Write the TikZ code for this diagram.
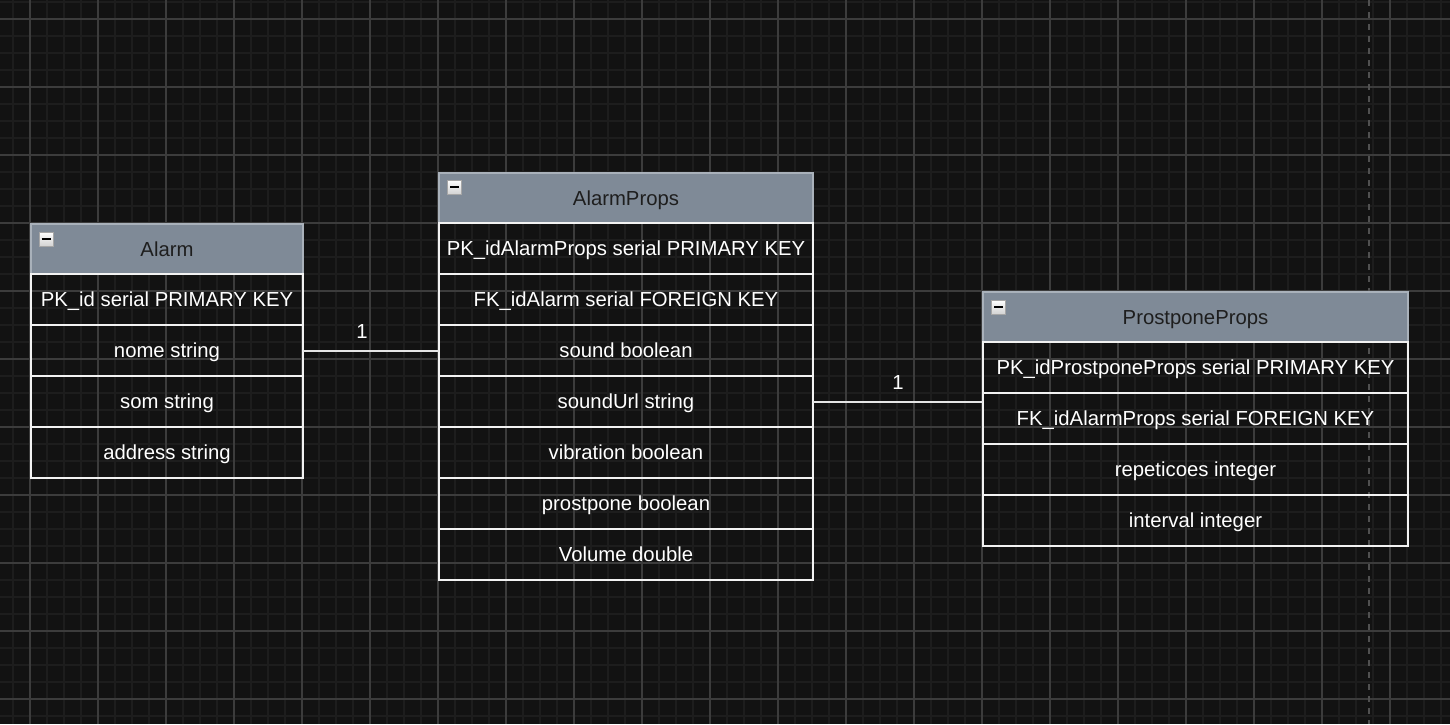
\documentclass[tikz,border=0pt]{standalone}
\usepackage{fontspec}
\setmainfont{Liberation Sans}
\definecolor{bg}{HTML}{121212}
\definecolor{gminor}{HTML}{1D1D1D}
\definecolor{gmajor}{HTML}{3C3C3C}
\definecolor{hdr}{HTML}{7F8A97}
\definecolor{hdrline}{HTML}{A9B1BA}
\definecolor{hdrtext}{HTML}{1E1E1E}
\definecolor{rowline}{HTML}{F2F2F2}
\definecolor{conn}{HTML}{E6E6E6}
\definecolor{dashc}{HTML}{505050}
\begin{document}
\begin{tikzpicture}[x=1pt,y=-1pt,
  txt/.style={font=\fontsize{20.3}{24}\selectfont,text height=14.5pt,text depth=0pt},
  hdrbox/.style={txt,draw=hdrline,fill=hdr,text=hdrtext,line width=1.6pt,minimum height=50pt,inner sep=0pt,outer sep=0pt},
  rowbox/.style={txt,draw=rowline,text=white,line width=2pt,minimum height=51pt,inner sep=0pt,outer sep=0pt},
  minusbox/.style={draw=gray!70,top color=white,bottom color=gray!35,minimum size=14pt,inner sep=0pt,line width=0.6pt,
    path picture={\draw[black,line width=2pt] ([xshift=-4.5pt]path picture bounding box.center) -- ([xshift=4.5pt]path picture bounding box.center);}},
  conline/.style={draw=conn,line width=2pt},
  mult/.style={txt,text=white,inner sep=0pt}]
\useasboundingbox (0,0) rectangle (1450,724);
\fill[bg] (0,0) rectangle (1450,724);
% grid
\foreach \k in {0,...,85} {
  \draw[gminor,line width=2pt] ({13+17*\k},0) -- ({13+17*\k},724);
}
\foreach \k in {0,...,42} {
  \draw[gminor,line width=2pt] (0,{2+17*\k}) -- (1450,{2+17*\k});
}
\foreach \k in {0,...,21} {
  \draw[gmajor,line width=1.1pt] ({30+68*\k},0) -- ({30+68*\k},724);
}
\foreach \k in {0,...,10} {
  \draw[gmajor,line width=1.1pt] (0,{19+68*\k}) -- (1450,{19+68*\k});
}
\draw[dashc,line width=2pt,dash pattern=on 6pt off 6pt] (1369,0) -- (1369,724);

% Alarm
\begin{scope}[every node/.append style={minimum width=272pt}]
\node[hdrbox] (ah) at (167,249) {Alarm};
\node[rowbox] (a1) at (167,299.5) {PK\_id serial PRIMARY KEY};
\node[rowbox] (a2) at (167,350.5) {nome string};
\node[rowbox] (a3) at (167,401.5) {som string};
\node[rowbox] (a4) at (167,452.5) {address string};
\end{scope}
\node[minusbox] (am) at (46,239) {};

% AlarmProps
\begin{scope}[every node/.append style={minimum width=374pt}]
\node[hdrbox] (ph) at (626,198) {AlarmProps};
\node[rowbox] (p1) at (626,248.5) {PK\_idAlarmProps serial PRIMARY KEY};
\node[rowbox] (p2) at (626,299.5) {FK\_idAlarm serial FOREIGN KEY};
\node[rowbox] (p3) at (626,350.5) {sound boolean};
\node[rowbox] (p4) at (626,401.5) {soundUrl string};
\node[rowbox] (p5) at (626,452.5) {vibration boolean};
\node[rowbox] (p6) at (626,503.5) {prostpone boolean};
\node[rowbox] (p7) at (626,554.5) {Volume double};
\end{scope}
\node[minusbox] (pm) at (454.5,187) {};

% ProstponeProps
\begin{scope}[every node/.append style={minimum width=425pt}]
\node[hdrbox] (sh) at (1195.5,317) {ProstponeProps};
\node[rowbox] (s1) at (1195.5,367.5) {PK\_idProstponeProps serial PRIMARY KEY};
\node[rowbox] (s2) at (1195.5,418.5) {FK\_idAlarmProps serial FOREIGN KEY};
\node[rowbox] (s3) at (1195.5,469.5) {repeticoes integer};
\node[rowbox] (s4) at (1195.5,520.5) {interval integer};
\end{scope}
\node[minusbox] (sm) at (998.5,307) {};

% connectors
\draw[conline] (a2.east) -- (a2.east -| p3.west);
\node[mult] (m1) at (362,331) {1};
\coordinate (sin) at (s1.west |- p4.east);
\draw[conline] (p4.east) -- (sin);
\node[mult] (m2) at (898,382) {1};
\end{tikzpicture}
\end{document}
